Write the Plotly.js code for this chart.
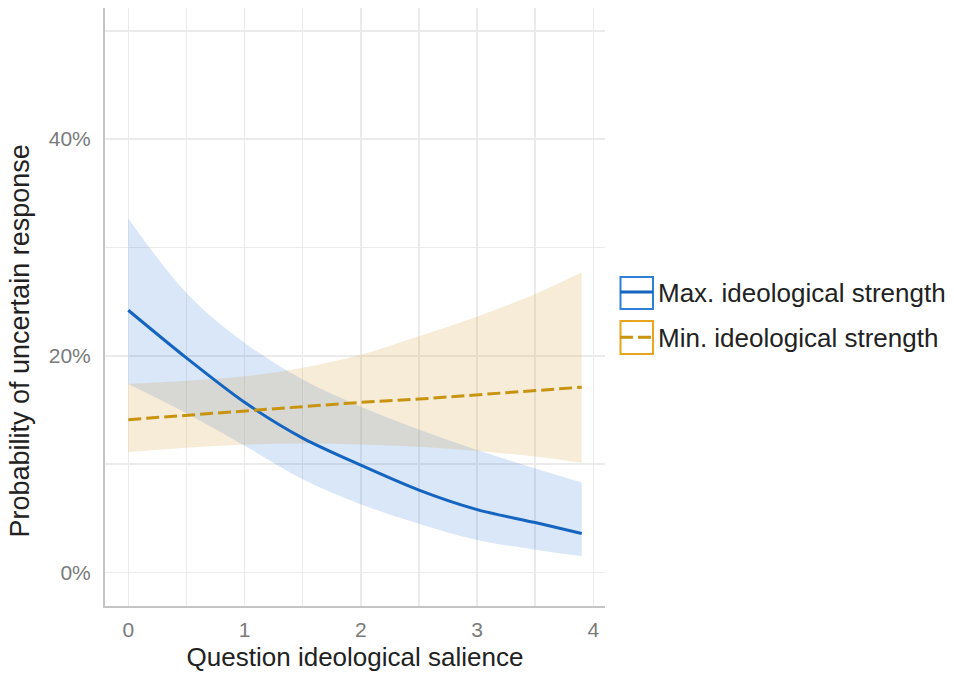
<!DOCTYPE html>
<html>
<head>
<meta charset="utf-8">
<script src="https://cdn.plot.ly/plotly-3.0.1.min.js"></script>
<style>html,body{margin:0;padding:0;background:#fff;}#chart{width:954px;height:675px;}</style>
</head>
<body>
<div id="chart"></div>
<script>
// Question ideological salience (x)
const salience = [0, 0.5, 1, 1.5, 2, 2.5, 3, 3.5, 3.9];
// Max. ideological strength (probability, %)
const maxMean  = [24.2, 19.8, 15.7, 12.4, 9.9, 7.6, 5.8, 4.6, 3.6];
const maxUpper = [32.7, 25.8, 21.2, 17.8, 15.3, 13.2, 11.3, 9.6, 8.3];
const maxLower = [17.4, 14.7, 11.7, 8.6, 6.3, 4.5, 3.0, 2.1, 1.5];
// Min. ideological strength (probability, %)
const minMean  = [14.1, 14.5, 14.9, 15.3, 15.7, 16.0, 16.4, 16.8, 17.1];
const minUpper = [17.4, 17.7, 18.1, 18.9, 20.1, 21.8, 23.6, 25.7, 27.7];
const minLower = [11.1, 11.5, 11.8, 11.9, 11.8, 11.6, 11.2, 10.7, 10.1];
// labels
const seriesNames = ['Max. ideological strength', 'Min. ideological strength'];
const xTicks = [0, 1, 2, 3, 4];
const yTicks = [0, 0.2, 0.4];
const xTitle = 'Question ideological salience';
const yTitle = 'Probability of uncertain response';

const pct = a => a.map(v => v / 100);

const blue = '#1565c0', blueFill = 'rgba(30,110,220,0.17)', blueKey = '#2f7fd2';
const orange = '#c8940f', orangeFill = 'rgba(210,160,60,0.2)', orangeKey = '#e8a41c';

const traces = [
  {x: salience, y: pct(maxLower), mode: 'lines', line: {width: 0, color: blueFill, shape: 'spline'}, showlegend: false, hoverinfo: 'skip'},
  {x: salience, y: pct(maxUpper), mode: 'lines', fill: 'tonexty', fillcolor: blueFill, line: {width: 0, color: blueFill, shape: 'spline'}, showlegend: false, hoverinfo: 'skip'},
  {x: salience, y: pct(minLower), mode: 'lines', line: {width: 0, color: orangeFill, shape: 'spline'}, showlegend: false, hoverinfo: 'skip'},
  {x: salience, y: pct(minUpper), mode: 'lines', fill: 'tonexty', fillcolor: orangeFill, line: {width: 0, color: orangeFill, shape: 'spline'}, showlegend: false, hoverinfo: 'skip'},
  {x: salience, y: pct(maxMean), mode: 'lines', name: seriesNames[0], legendgroup: 'a', line: {color: blue, width: 3, shape: 'spline', smoothing: 0.8}},
  {x: salience, y: pct(minMean), mode: 'lines', name: seriesNames[1], legendgroup: 'b', line: {color: orange, width: 3, dash: '13px,5px'}}
];

const gridC = '#ebebeb';
// legend key boxes (decoration around legend symbols)
const keyBox = (y0, y1, c) => ({type: 'rect', xref: 'paper', yref: 'paper', x0: 1.031, x1: 1.096, y0: y0, y1: y1, line: {color: c, width: 2}, fillcolor: 'rgba(0,0,0,0)', layer: 'above'});

const layout = {
  width: 954, height: 675,
  margin: {l: 105, r: 349, t: 8, b: 69, autoexpand: false},
  paper_bgcolor: '#fff', plot_bgcolor: '#fff',
  font: {family: 'Liberation Sans, Arial, sans-serif', color: '#222'},
  xaxis: {
    range: [-0.2, 4.1], tickvals: xTicks, ticktext: xTicks.map(String),
    showgrid: true, gridcolor: gridC, gridwidth: 1.5,
    minor: {dtick: 0.5, showgrid: true, gridcolor: gridC, gridwidth: 1.5},
    zeroline: false, showline: true, linecolor: '#c4c4c4', linewidth: 2,
    ticks: '', ticklabelstandoff: 4,
    tickfont: {size: 21, color: '#7a7a7a'},
    title: {text: xTitle, font: {size: 26, color: '#222'}, standoff: 8}
  },
  yaxis: {
    range: [-0.031, 0.521], tickvals: yTicks, tickformat: '.0%',
    showgrid: true, gridcolor: gridC, gridwidth: 1.5,
    minor: {dtick: 0.1, showgrid: true, gridcolor: gridC, gridwidth: 1.5},
    zeroline: false, showline: true, linecolor: '#c4c4c4', linewidth: 2,
    ticks: '', ticklabelstandoff: 8,
    tickfont: {size: 21, color: '#7a7a7a'}
  },
  annotations: [{
    text: yTitle, xref: 'paper', yref: 'paper', x: -0.17, y: 0.4423,
    xanchor: 'center', yanchor: 'middle', textangle: -90, showarrow: false,
    font: {size: 27, color: '#222'}
  }],
  legend: {
    x: 1.02, xanchor: 'left', y: 0.4866, yanchor: 'middle',
    font: {size: 26, color: '#222'}, itemwidth: 33,
    traceorder: 'grouped', tracegroupgap: 8.5, bgcolor: 'rgba(0,0,0,0)'
  },
  shapes: [keyBox(0.4967, 0.5502, blueKey), keyBox(0.4214, 0.4766, orangeKey)],
  showlegend: true
};

Plotly.newPlot('chart', traces, layout, {displayModeBar: false, staticPlot: true});
</script>
</body>
</html>
